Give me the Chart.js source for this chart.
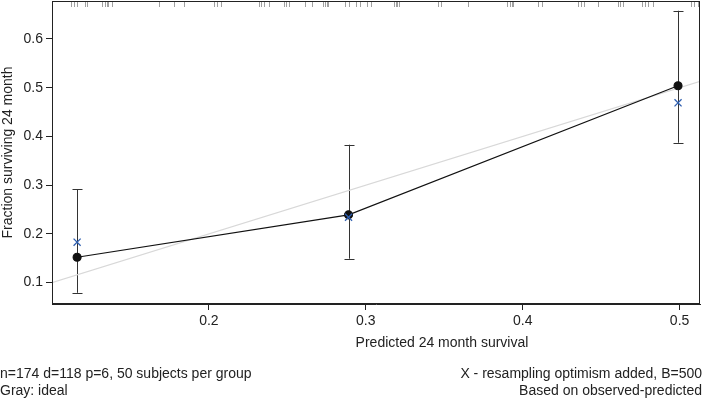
<!DOCTYPE html>
<html>
<head>
<meta charset="utf-8">
<script src="https://cdn.jsdelivr.net/npm/chart.js@4.4.0/dist/chart.umd.min.js"></script>
<style>
  body { margin: 0; background: #fff; font-family: "Liberation Sans", Arial, sans-serif; }
  #wrap { position: relative; width: 703px; height: 400px; }
  .txt { position: absolute; font-size: 14px; line-height: 16px; color: #222; white-space: nowrap; }
</style>
</head>
<body>
<div id="wrap">
  <canvas id="calib" width="703" height="400"></canvas>
  <div class="txt" style="left:442px; top:334px; transform:translateX(-50%);">Predicted 24 month survival</div>
  <div class="txt" style="left:0; top:365px;">n=174 d=118 p=6, 50 subjects per group</div>
  <div class="txt" style="left:0; top:382px;">Gray: ideal</div>
  <div class="txt" style="right:1px; top:365px; text-align:right;">X - resampling optimism added, B=500</div>
  <div class="txt" style="right:1px; top:382px; text-align:right;">Based on observed-predicted</div>
</div>
<script>
// calibration groups
const predicted = [0.116, 0.289, 0.499];
const observed = [0.152, 0.239, 0.504];
const corrected = [0.183, 0.234, 0.469];
const lower = [0.079, 0.149, 0.387];
const upper = [0.292, 0.383, 0.658];

// predicted values shown as rug along the top
const rugValues = [
  0.112, 0.114, 0.116, 0.121, 0.122, 0.132, 0.134, 0.135, 0.136, 0.138,
  0.168, 0.178, 0.184, 0.203, 0.205, 0.208, 0.232, 0.233, 0.235, 0.238,
  0.248, 0.249, 0.251, 0.261, 0.266, 0.273, 0.274, 0.275, 0.276, 0.287,
  0.289, 0.294, 0.296, 0.301, 0.303, 0.318, 0.319, 0.320, 0.321, 0.346,
  0.348, 0.365, 0.390, 0.392, 0.393, 0.394, 0.410, 0.412, 0.435, 0.437,
  0.439, 0.448, 0.461, 0.462, 0.464, 0.476, 0.478, 0.480, 0.483, 0.507,
  0.509, 0.512,
];

const idealLine = [0, 1];
const xTicks = [0.2, 0.3, 0.4, 0.5];
const yTicks = [0.1, 0.2, 0.3, 0.4, 0.5, 0.6];

const FONT = { family: "'Liberation Sans', Arial, sans-serif", size: 14 };
const INK = "#222";

const errorBars = {
  id: "errorBars",
  beforeDatasetsDraw(chart) {
    const { ctx, scales } = chart;
    ctx.save();
    ctx.strokeStyle = "#333";
    ctx.lineWidth = 1;
    predicted.forEach((p, i) => {
      const x = Math.round(scales.x.getPixelForValue(p)) + 0.5;
      const y1 = scales.y.getPixelForValue(lower[i]);
      const y2 = scales.y.getPixelForValue(upper[i]);
      ctx.beginPath();
      ctx.moveTo(x, y1);
      ctx.lineTo(x, y2);
      ctx.moveTo(x - 5, Math.round(y1) + 0.5);
      ctx.lineTo(x + 5, Math.round(y1) + 0.5);
      ctx.moveTo(x - 5, Math.round(y2) + 0.5);
      ctx.lineTo(x + 5, Math.round(y2) + 0.5);
      ctx.stroke();
    });
    ctx.restore();
  },
};

const rugAndFrame = {
  id: "rugAndFrame",
  afterDraw(chart) {
    const { ctx, chartArea, scales } = chart;
    ctx.save();
    ctx.strokeStyle = "#a0a0a0";
    ctx.lineWidth = 1;
    rugValues.forEach((v) => {
      const x = Math.round(scales.x.getPixelForValue(v)) + 0.5;
      ctx.beginPath();
      ctx.moveTo(x, chartArea.top);
      ctx.lineTo(x, chartArea.top + 6);
      ctx.stroke();
    });
    ctx.strokeStyle = INK;
    ctx.strokeRect(
      Math.round(chartArea.left) + 0.5,
      Math.round(chartArea.top) + 0.5,
      Math.round(chartArea.right - chartArea.left) - 1,
      Math.round(chartArea.bottom - chartArea.top) - 1
    );
    ctx.restore();
  },
};

new Chart(document.getElementById("calib"), {
  type: "scatter",
  data: {
    datasets: [
      {
        data: corrected.map((v, i) => ({ x: predicted[i], y: v })),
        pointStyle: "crossRot",
        pointRadius: 5,
        borderColor: "#2f5fb0",
        borderWidth: 1.3,
        showLine: false,
      },
      {
        data: observed.map((v, i) => ({ x: predicted[i], y: v })),
        showLine: true,
        borderColor: "#111",
        borderWidth: 1.1,
        pointRadius: 4,
        pointBackgroundColor: "#111",
        pointBorderColor: "#111",
      },
      {
        data: idealLine.map((v) => ({ x: v, y: v })),
        showLine: true,
        borderColor: "#d8d8d8",
        borderWidth: 1.2,
        pointRadius: 0,
      },
    ],
  },
  options: {
    responsive: false,
    animation: false,
    devicePixelRatio: 1,
    layout: {
      autoPadding: false,
      padding: { left: 0, right: 3, top: 1, bottom: 46 },
    },
    plugins: {
      legend: { display: false },
      tooltip: { enabled: false },
    },
    scales: {
      x: {
        type: "linear",
        min: 0.1,
        max: 0.513,
        afterBuildTicks: (scale) => {
          scale.ticks = xTicks.map((v) => ({ value: v }));
        },
        afterFit: (scale) => {
          scale.height = 50;
          scale.paddingLeft = 0;
          scale.paddingRight = 0;
        },
        ticks: {
          color: INK,
          font: FONT,
          padding: 3,
          maxRotation: 0,
          callback: (v) => v.toFixed(1),
        },
        grid: { drawOnChartArea: false, tickLength: 6, color: INK },
        border: { display: true, color: INK },
      },
      y: {
        type: "linear",
        min: 0.056,
        max: 0.678,
        afterBuildTicks: (scale) => {
          scale.ticks = yTicks.map((v) => ({ value: v }));
        },
        afterFit: (scale) => {
          scale.width = 52;
          scale.paddingTop = 0;
          scale.paddingBottom = 0;
        },
        ticks: {
          color: INK,
          font: FONT,
          padding: 3,
          callback: (v) => v.toFixed(1),
        },
        grid: { drawOnChartArea: false, tickLength: 6, color: INK },
        border: { display: true, color: INK },
        title: {
          display: true,
          text: "Fraction surviving 24 month",
          color: INK,
          font: FONT,
          padding: { top: 0, bottom: 0 },
        },
      },
    },
  },
  plugins: [errorBars, rugAndFrame],
});
</script>
</body>
</html>
